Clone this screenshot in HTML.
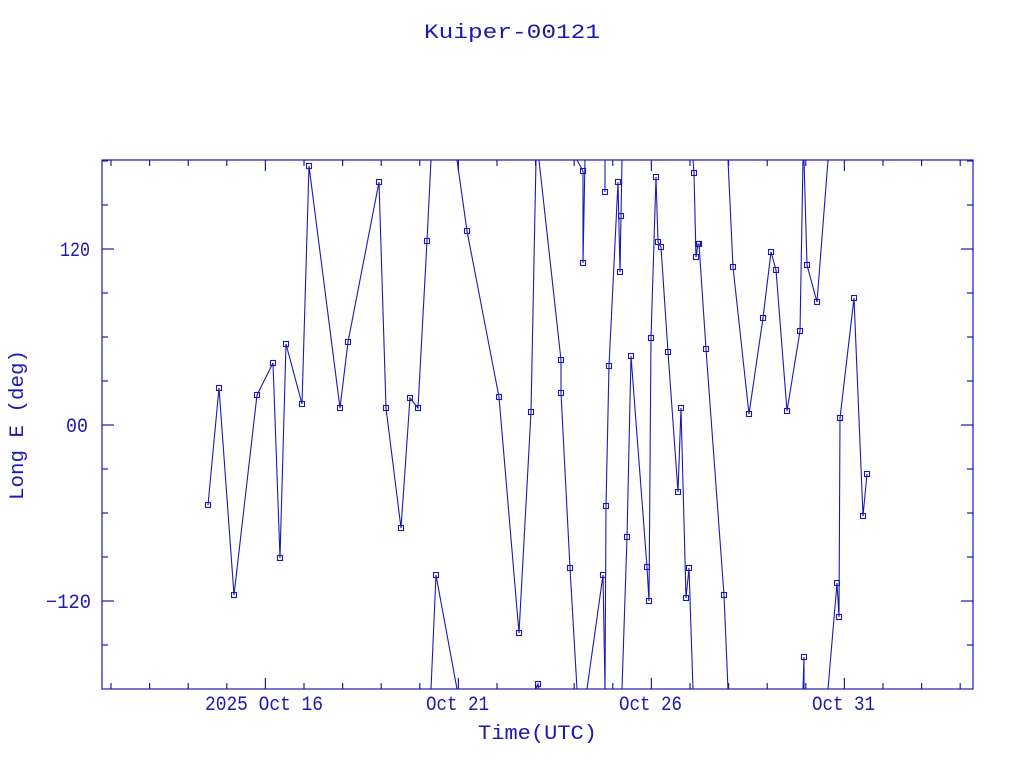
<!DOCTYPE html>
<html><head><meta charset="utf-8"><style>
html,body{margin:0;padding:0;background:#fff;}
svg{display:block;}
text{font-family:"Liberation Mono","DejaVu Sans Mono",monospace;fill:#1a1ab0;font-size:20px;}
</style></head><body>
<svg id="s" width="1024" height="768" xmlns="http://www.w3.org/2000/svg">
<text x="424" y="38" font-size="25" textLength="176" lengthAdjust="spacingAndGlyphs">Kuiper-00121</text>
<text transform="translate(23,425) rotate(-90)" x="-75" y="0" font-size="22" textLength="150" lengthAdjust="spacingAndGlyphs">Long E (deg)</text>
<text x="478" y="739" font-size="22" textLength="119" lengthAdjust="spacingAndGlyphs">Time(UTC)</text>
<text x="205" y="710" textLength="118" lengthAdjust="spacingAndGlyphs">2025 Oct 16</text>
<text x="426" y="710" textLength="63" lengthAdjust="spacingAndGlyphs">Oct 21</text>
<text x="619" y="710" textLength="63" lengthAdjust="spacingAndGlyphs">Oct 26</text>
<text x="812" y="710" textLength="63" lengthAdjust="spacingAndGlyphs">Oct 31</text>
<text x="60" y="256" textLength="30" lengthAdjust="spacingAndGlyphs">120</text>
<text x="66" y="432" textLength="22" lengthAdjust="spacingAndGlyphs">00</text>
<text x="46" y="608" textLength="45" lengthAdjust="spacingAndGlyphs">&#8722;120</text>
<rect x="102" y="160" width="871" height="529" fill="none" stroke="#1a1ab0" stroke-width="1.2"/>
<g id="ticks" stroke="#1a1ab0" stroke-width="1.2"></g>
<g id="data" fill="none" stroke="#1a1ab0" stroke-width="1.1"></g>
</svg>
<script>
var t=document.getElementById('ticks'),h='';
for(var k=0;k<23;k++){var x=111+k*38.6;if(x>972)break;var maj=(k%5==4);var L=maj?11:6;
h+='<line x1="'+x+'" y1="689" x2="'+x+'" y2="'+(689-L)+'"/><line x1="'+x+'" y1="160" x2="'+x+'" y2="'+(160+L)+'"/>';}
for(var d=-150;d<=180;d+=30){var y=425-d*176/120;if(y<161||y>688)continue;var maj=(d%120==0);var L=maj?12:6;
h+='<line x1="102" y1="'+y+'" x2="'+(102+L)+'" y2="'+y+'"/><line x1="973" y1="'+y+'" x2="'+(973-L)+'" y2="'+y+'"/>';}
t.innerHTML=h;
var segs=[
[[208,505],[219,388],[234,595],[257,395],[273,363],[280,558],[286,344],[302,404],[309,166],[340,408],[348,342],[379,182],[386,408],[401,528],[410,398],[418,408],[427,241],[431,160]],
[[431,689],[436,575],[457,689]],
[[457,160],[467,231],[499,397],[519,633],[531,412],[536,160]],
[[536,689],[538,684],[539,689]],
[[539,160],[561,360],[561,393],[570,568],[577,689]],
[[577,160],[583,171],[583,263],[585,160]],
[[587,689],[603,575],[605,689]],
[[605,160],[605,192],[605,160]],
[[605,689],[606,506],[609,366],[618,182],[620,272],[621,216],[622,160]],
[[622,689],[627,537],[631,356],[647,567],[649,601],[651,338],[656,177],[658,242],[661,247],[668,352],[678,492],[681,408],[686,598],[689,568],[693,689]],
[[693,160],[694,173],[696,257],[698,244],[699,244],[706,349],[724,595],[728,689]],
[[728,160],[733,267],[749,414],[763,318],[771,252],[776,270],[787,411],[800,331],[803,160]],
[[803,689],[804,657],[804,689]],
[[804,160],[807,265],[817,302],[828,160]],
[[828,689],[837,583],[839,617],[840,418],[854,298],[863,516],[867,474]]
];
var g=document.getElementById('data'),s='';
segs.forEach(function(p){s+='<polyline points="'+p.map(function(q){return q.join(',')}).join(' ')+'"/>';
p.forEach(function(q){if(q[1]>161&&q[1]<688)s+='<rect x="'+(q[0]-2.5)+'" y="'+(q[1]-2.5)+'" width="5" height="5"/>';});});
g.innerHTML=s;
</script>
</body></html>
